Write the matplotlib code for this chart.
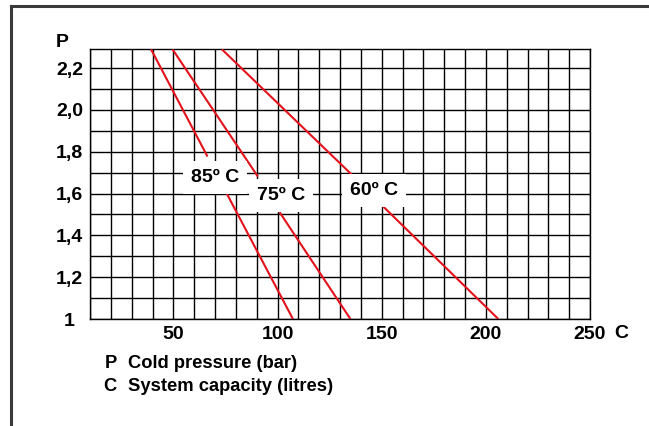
import matplotlib
matplotlib.use("Agg")
import matplotlib.pyplot as plt
from matplotlib.lines import Line2D
import numpy as np

plt.rcParams['font.family'] = ['Liberation Sans', 'DejaVu Sans']
plt.rcParams['font.weight'] = 'bold'

# Curves: start, break start, break end, end (capacity C, pressure P)
c85_x = [39.3, 66.4, 74.9, 107.4]
c85_p = [2.29, 1.777, 1.614, 1.0]
c75_x = [49.6, 90.6, 101.0, 135.0]
c75_p = [2.29, 1.681, 1.511, 1.0]
c60_x = [73.3, 135.8, 149.1, 206.0]
c60_p = [2.29, 1.689, 1.554, 1.0]

curve_labels = ["85º C", "75º C", "60º C"]
label_x = [70.1, 101.7, 146.2]
label_p = [1.678, 1.591, 1.614]

x_ticks = [50, 100, 150, 200, 250]
x_ticklabels = ["50", "100", "150", "200", "250"]
y_ticks = [1.0, 1.2, 1.4, 1.6, 1.8, 2.0, 2.2]
y_ticklabels = ["1", "1,2", "1,4", "1,6", "1,8", "2,0", "2,2"]

fig = plt.figure(figsize=(6.49, 4.26), dpi=100)
ax = fig.add_axes([90 / 649, 1 - 319 / 426, 500 / 649, 269.7 / 426])

red = '#e3121b'
for xs, ps in [(c85_x, c85_p), (c75_x, c75_p), (c60_x, c60_p)]:
    ax.plot(xs[0:2], ps[0:2], color=red, lw=1.5, solid_capstyle='butt', zorder=3)
    ax.plot(xs[2:4], ps[2:4], color=red, lw=1.5, solid_capstyle='butt', zorder=3)

for txt, lx, lp in zip(curve_labels, label_x, label_p):
    ax.text(lx, lp, txt, fontsize=14, fontweight='bold', ha='center', va='center',
            zorder=4, bbox=dict(boxstyle='square,pad=0.42', fc='white', ec='none'))

ax.set_xlim(10, 250)
ax.set_ylim(1.0, 2.29)
ax.set_xticks(x_ticks)
ax.set_xticklabels(x_ticklabels)
ax.set_xticks(np.arange(10, 251, 10), minor=True)
ax.set_yticks(y_ticks)
ax.set_yticklabels(y_ticklabels)
ax.set_yticks(np.arange(1.0, 2.25, 0.1), minor=True)
ax.grid(True, which='both', color='black', lw=1.0, zorder=1)
ax.set_axisbelow(True)
for s in ax.spines.values():
    s.set_linewidth(1.0)
    s.set_color('black')
ax.tick_params(which='both', length=0)
ax.tick_params(axis='x', labelsize=14, pad=5)
ax.tick_params(axis='y', labelsize=14, pad=14.8)
for lab in ax.get_yticklabels():
    lab.set_ha('center')
for lab in ax.get_xticklabels() + ax.get_yticklabels():
    lab.set_fontweight('bold')

ax.text(265.1, -0.052, "C", transform=ax.get_xaxis_transform(), fontsize=14,
        fontweight='bold', ha='center', va='center', clip_on=False)
ax.text(-0.055, 1.025, "P", transform=ax.transAxes, fontsize=14,
        fontweight='bold', ha='center', va='center')

fig.text(104.3 / 649, 1 - 368.3 / 426, "P", fontsize=13.2, fontweight='bold', va='baseline')
fig.text(127.7 / 649, 1 - 368.3 / 426, "Cold pressure (bar)", fontsize=13.2,
         fontweight='bold', va='baseline')
fig.text(103.3 / 649, 1 - 390.7 / 426, "C", fontsize=13.2, fontweight='bold', va='baseline')
fig.text(127.7 / 649, 1 - 390.7 / 426, "System capacity (litres)", fontsize=13.2,
         fontweight='bold', va='baseline')

# outer frame (top and left edges)
fig.add_artist(Line2D([10.8 / 649, 1], [1 - 6 / 426, 1 - 6 / 426], color='#3a3a3a', lw=2.2,
                      transform=fig.transFigure))
fig.add_artist(Line2D([10.8 / 649, 10.8 / 649], [0, 1 - 6 / 426], color='#3a3a3a', lw=2.2,
                      transform=fig.transFigure))

fig.savefig("out.png", dpi=100)
